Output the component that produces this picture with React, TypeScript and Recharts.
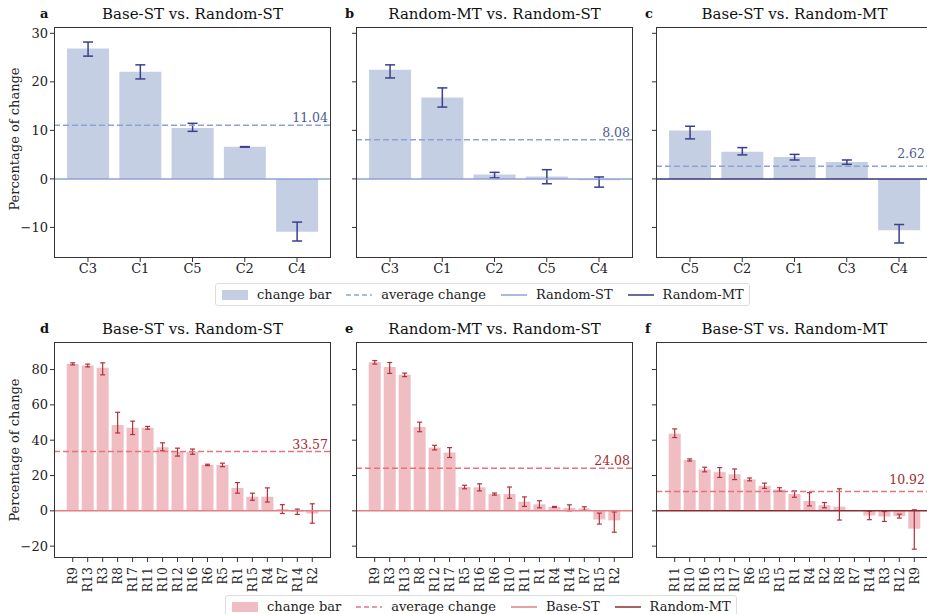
import React from "react";
import { BarChart, Bar, XAxis, YAxis, ErrorBar, ReferenceLine } from "recharts";

const FONT = "'DejaVu Serif', serif";

// ---- top row (clients) ----
const catsA = ["C3", "C1", "C5", "C2", "C4"];
const valsA = [26.85, 22.1, 10.5, 6.6, -10.9];
const loA = [1.55, 1.5, 0.7, 0.05, 1.9];
const hiA = [1.35, 1.4, 0.95, 0.05, 2.0];

const catsB = ["C3", "C1", "C2", "C5", "C4"];
const valsB = [22.5, 16.75, 0.9, 0.5, -0.3];
const loB = [1.7, 1.95, 0.7, 1.5, 1.4];
const hiB = [1.0, 2.0, 0.45, 1.4, 0.7];

const catsC = ["C5", "C2", "C1", "C3", "C4"];
const valsC = [9.95, 5.6, 4.5, 3.5, -10.6];
const loC = [1.7, 0.65, 0.6, 0.5, 2.6];
const hiC = [0.9, 0.85, 0.55, 0.4, 1.2];

const avgTop = [11.04, 8.08, 2.62];
const topTicks = [-10, 0, 10, 20, 30];

// ---- bottom row (regions) ----
const catsD = ["R9", "R13", "R3", "R8", "R17", "R11", "R10", "R12", "R16", "R6", "R5", "R1", "R15", "R4", "R7", "R14", "R2"];
const valsD = [83.2, 82.3, 81, 48.6, 47, 47, 36, 33.5, 33.5, 26, 26, 13, 8, 8, 1, -0.5, -1.5];
const loD = [0.6, 0.8, 4, 4.5, 3.8, 0.8, 2, 2.5, 1.5, 0.4, 1, 3, 2, 3, 2.5, 1.5, 5.5];
const hiD = [0.6, 0.8, 2.8, 7.2, 3.8, 0.8, 2.5, 2, 1.5, 0.4, 1, 3, 2, 5, 2.5, 1.5, 5.5];

const catsE = ["R9", "R3", "R13", "R8", "R12", "R17", "R5", "R16", "R6", "R10", "R11", "R1", "R4", "R14", "R7", "R15", "R2"];
const valsE = [84.1, 81.5, 77, 47.5, 35.8, 33, 13.5, 13.3, 9.5, 9.5, 5.2, 3.7, 2.2, 1.7, 1.3, -4.9, -5.4];
const loE = [1, 3.7, 1, 2.7, 1.3, 2.8, 1, 2, 0.6, 2.4, 2.7, 2, 0.3, 1.7, 1, 2.6, 6.7];
const hiE = [1, 2.5, 1, 2.7, 1.3, 2.8, 1, 2, 0.6, 4, 2.7, 2, 0.3, 1.7, 1, 3.6, 4.8];

const catsF = ["R11", "R10", "R16", "R13", "R17", "R6", "R5", "R15", "R1", "R4", "R2", "R8", "R7", "R14", "R3", "R12", "R9"];
const valsF = [43.7, 28.8, 23.4, 21.9, 20.7, 17.8, 14.2, 12.1, 9.5, 5.6, 3.2, 2.4, 0, -2.6, -3.2, -3.0, -10.1];
const loF = [2.2, 0.6, 1.3, 3, 3, 0.8, 1.5, 1, 1.8, 2.8, 1.5, 7.6, 1.2, 2.4, 2.8, 1.1, 11.6];
const hiF = [2.7, 0.6, 1.3, 2.6, 3, 0.8, 1.5, 1, 1.8, 4.7, 1.5, 10.1, 1.2, 2.4, 2.8, 1.1, 10.7];

const avgBottom = [33.57, 24.08, 10.92];
const bottomTicks = [-20, 0, 20, 40, 60, 80];

const BLUE = { bar: "#c5cfe4", err: "#3b3f8c", avg: "#8fa2d4", avgText: "#4e5b94", light: "#8fa2d4", dark: "#363a7a" };
const RED = { bar: "#f0bdc3", err: "#b0323d", avg: "#e2747f", avgText: "#a52a31", light: "#e2808a", dark: "#8a2e36" };

const PLOT_W = 277;
const MT = 10;

type PanelDef = {
  letter: string;
  letterX: number;
  title: string;
  x: number;
  y: number;
  h: number;
  cats: string[];
  vals: number[];
  lo: number[];
  hi: number[];
  avg: number;
  domain: [number, number];
  ticks: number[];
  padFrac: number;
  first: boolean;
  rotated: boolean;
  pal: typeof BLUE;
  dark: boolean;
  labelOffset: number;
};

const panels: PanelDef[] = [
  { letter: "a", letterX: 40, title: "Base-ST vs. Random-ST", x: 54, y: 27, h: 231, cats: catsA, vals: valsA, lo: loA, hi: hiA, avg: avgTop[0], domain: [-16.3, 31.3], ticks: topTicks, padFrac: 0.15, first: true, rotated: false, pal: BLUE, dark: false, labelOffset: 3 },
  { letter: "b", letterX: 345, title: "Random-MT vs. Random-ST", x: 356, y: 27, h: 231, cats: catsB, vals: valsB, lo: loB, hi: hiB, avg: avgTop[1], domain: [-16.3, 31.3], ticks: topTicks, padFrac: 0.15, first: false, rotated: false, pal: BLUE, dark: false, labelOffset: 3 },
  { letter: "c", letterX: 645, title: "Base-ST vs. Random-MT", x: 656, y: 27, h: 231, cats: catsC, vals: valsC, lo: loC, hi: hiC, avg: avgTop[2], domain: [-16.3, 31.3], ticks: topTicks, padFrac: 0.15, first: false, rotated: false, pal: BLUE, dark: true, labelOffset: 8 },
  { letter: "d", letterX: 40, title: "Base-ST vs. Random-ST", x: 54, y: 342, h: 216, cats: catsD, vals: valsD, lo: loD, hi: hiD, avg: avgBottom[0], domain: [-26.7, 95.6], ticks: bottomTicks, padFrac: 0.75, first: true, rotated: true, pal: RED, dark: false, labelOffset: 3 },
  { letter: "e", letterX: 345, title: "Random-MT vs. Random-ST", x: 356, y: 342, h: 216, cats: catsE, vals: valsE, lo: loE, hi: hiE, avg: avgBottom[1], domain: [-26.7, 95.6], ticks: bottomTicks, padFrac: 0.75, first: false, rotated: true, pal: RED, dark: false, labelOffset: 3 },
  { letter: "f", letterX: 645, title: "Base-ST vs. Random-MT", x: 656, y: 342, h: 216, cats: catsF, vals: valsF, lo: loF, hi: hiF, avg: avgBottom[2], domain: [-26.7, 95.6], ticks: bottomTicks, padFrac: 0.75, first: false, rotated: true, pal: RED, dark: true, labelOffset: 8 },
];

const minus = (v: number) => (v < 0 ? "\u2212" + Math.abs(v) : String(v));

const RotTick = (props: any) => {
  const { x, y, payload } = props;
  return (
    <g transform={`translate(${x},${y})`}>
      <text transform="rotate(-90)" x={-3} y={0} textAnchor="end" dominantBaseline="central" fontSize={12.5} fill="#222" fontFamily={FONT}>
        {payload.value}
      </text>
    </g>
  );
};

const Panel = ({ p }: { p: PanelDef }) => {
  const rows = p.cats.map((c, i) => ({ name: c, value: p.vals[i], err: [p.lo[i], p.hi[i]] }));
  const band = PLOT_W / (p.cats.length + 2 * p.padFrac);
  const pad = band * p.padFrac;
  const yw = p.first ? 54 : 10;
  const xh = p.rotated ? 50 : 30;
  const tickStyle = { fontSize: 13, fill: "#222", fontFamily: FONT };
  return (
    <>
      <div style={{ position: "absolute", left: p.x - yw, top: p.y - MT }}>
        <BarChart
          width={yw + PLOT_W}
          height={MT + p.h + xh}
          data={rows}
          margin={{ top: MT, right: 0, bottom: 0, left: 0 }}
          barCategoryGap="10%"
        >
          <XAxis
            dataKey="name"
            padding={{ left: pad, right: pad }}
            axisLine={false}
            tickLine={{ stroke: "#333" }}
            tickSize={4}
            height={xh}
            interval={0}
            tick={p.rotated ? <RotTick /> : tickStyle}
          />
          <YAxis
            type="number"
            domain={p.domain}
            ticks={p.ticks}
            allowDataOverflow
            width={yw}
            axisLine={false}
            tickLine={{ stroke: "#333" }}
            tickSize={4}
            tickFormatter={minus}
            tick={p.first ? tickStyle : () => <g />}
          />
          <Bar dataKey="value" fill={p.pal.bar} isAnimationActive={false}>
            <ErrorBar dataKey="err" width={p.rotated ? 2.5 : 5} stroke={p.pal.err} strokeWidth={p.rotated ? 1.2 : 1.5} direction="y" />
          </Bar>
          <ReferenceLine y={0} stroke={p.dark ? p.pal.dark : p.pal.light} strokeWidth={1.5} />
          <ReferenceLine
            y={p.avg}
            stroke={p.pal.avg}
            strokeWidth={1.5}
            strokeDasharray="6 3"
            label={{ value: p.avg.toFixed(2), position: "insideBottomRight", fill: p.pal.avgText, fontSize: 12.5, fontFamily: FONT, offset: p.labelOffset }}
          />
        </BarChart>
      </div>
      <div
        style={{
          position: "absolute",
          left: p.x,
          top: p.y,
          width: PLOT_W,
          height: p.h,
          border: "1px solid #333",
          boxSizing: "border-box",
          pointerEvents: "none",
        }}
      />
      <div style={{ position: "absolute", left: p.x, width: PLOT_W, top: p.y - 22, textAlign: "center", fontSize: 15, color: "#111", lineHeight: "18px" }}>
        {p.title}
      </div>
      <div style={{ position: "absolute", left: p.letterX, top: p.y - 22, fontSize: 13, fontWeight: "bold", color: "#111", lineHeight: "18px" }}>
        {p.letter}
      </div>
      {p.first && (
        <div
          style={{
            position: "absolute",
            left: 14,
            top: p.y + p.h / 2 - (p.rotated ? 0 : 4),
            transform: "translate(-50%, -50%) rotate(-90deg)",
            fontSize: 13,
            color: "#222",
            whiteSpace: "nowrap",
          }}
        >
          Percentage of change
        </div>
      )}
    </>
  );
};

const LegendBox = ({ left, top, pal, lightName, darkName }: { left: number; top: number; pal: typeof BLUE; lightName: string; darkName: string }) => {
  const item = { display: "flex", alignItems: "center", marginRight: 15 };
  const lbl = { marginLeft: 9 };
  return (
    <div
      style={{
        position: "absolute",
        left,
        top,
        display: "flex",
        alignItems: "center",
        border: "1px solid #ddd",
        borderRadius: 3,
        padding: "2px 0 2px 6px",
        fontSize: 13,
        color: "#222",
        background: "#fff",
        lineHeight: "17px",
      }}
    >
      <div style={item}>
        <svg width={26} height={10}><rect x={0} y={0} width={26} height={10} fill={pal.bar} /></svg>
        <span style={lbl}>change bar</span>
      </div>
      <div style={item}>
        <svg width={26} height={10}><line x1={0} x2={26} y1={5} y2={5} stroke={pal.avg} strokeWidth={1.5} strokeDasharray="5 3" /></svg>
        <span style={lbl}>average change</span>
      </div>
      <div style={item}>
        <svg width={26} height={10}><line x1={0} x2={26} y1={5} y2={5} stroke={pal.light} strokeWidth={1.5} /></svg>
        <span style={lbl}>{lightName}</span>
      </div>
      <div style={{ ...item, marginRight: 5 }}>
        <svg width={26} height={10}><line x1={0} x2={26} y1={5} y2={5} stroke={pal.dark} strokeWidth={1.5} /></svg>
        <span style={lbl}>{darkName}</span>
      </div>
    </div>
  );
};

export default function App() {
  return (
    <div
      style={{
        position: "fixed",
        left: 0,
        top: 0,
        width: 927,
        height: 614,
        overflow: "hidden",
        background: "#fff",
        fontFamily: FONT,
      }}
    >
      {panels.map((p) => (
        <Panel key={p.letter} p={p} />
      ))}
      <LegendBox left={215} top={283} pal={BLUE} lightName="Random-ST" darkName="Random-MT" />
      <LegendBox left={225} top={595} pal={RED} lightName="Base-ST" darkName="Random-MT" />
    </div>
  );
}
